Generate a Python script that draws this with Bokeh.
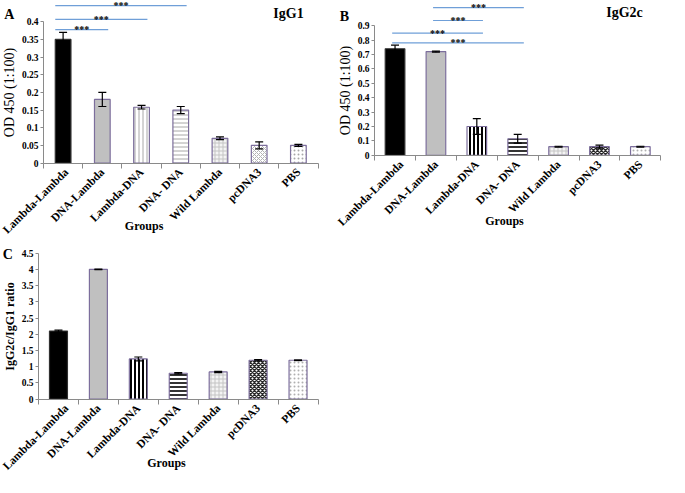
import math
from bokeh.plotting import figure
from bokeh.models import (ColumnDataSource, FixedTicker, NumeralTickFormatter,
                          CustomJSTickFormatter, Whisker, TeeHead, Label, Range1d)
from bokeh.layouts import column, row
from bokeh.core.properties import value
from bokeh.embed import file_html
from bokeh.resources import INLINE

# ---------------- data ----------------
groups = ["Lambda-Lambda", "DNA-Lambda", "Lambda-DNA", "DNA- DNA",
          "Wild Lambda", "pcDNA3", "PBS"]

igg1_mean = [0.35, 0.18, 0.158, 0.15, 0.07, 0.05, 0.05]
igg1_err = [0.02, 0.02, 0.005, 0.01, 0.004, 0.01, 0.003]
igg1_ticks = [0, 0.05, 0.1, 0.15, 0.2, 0.25, 0.3, 0.35, 0.4]

igg2c_mean = [0.74, 0.72, 0.20, 0.115, 0.06, 0.06, 0.06]
igg2c_err = [0.025, 0.004, 0.055, 0.03, 0.003, 0.01, 0.003]
igg2c_ticks = [0, 0.1, 0.2, 0.3, 0.4, 0.5, 0.6, 0.7, 0.8, 0.9]

ratio_mean = [2.1, 4.0, 1.24, 0.8, 0.84, 1.2, 1.2]
ratio_err = [0.03, 0.01, 0.06, 0.02, 0.02, 0.02, 0.01]
ratio_ticks = [0, 0.5, 1, 1.5, 2, 2.5, 3, 3.5, 4, 4.5]

sig_a_from = ["Lambda-Lambda", "Lambda-Lambda", "Lambda-Lambda"]
sig_a_to = ["DNA-Lambda", "Lambda-DNA", "DNA- DNA"]
sig_a_level = [0.378, 0.407, 0.446]

sig_b_from = ["DNA-Lambda", "DNA-Lambda", "Lambda-Lambda", "Lambda-Lambda"]
sig_b_to = ["DNA- DNA", "Lambda-DNA", "Lambda-DNA", "DNA- DNA"]
sig_b_level = [1.025, 0.936, 0.848, 0.781]

# ---------------- styles ----------------
SERIF = "Liberation Serif"
fills = ["black", "#c0c0c0", "white", "white", "#f4f4f4", "white", "white"]
patterns = [" ", " ", "vertical_line", "horizontal_line", "cross",
            "diagonal_cross", "dot"]
hatch_light = ["black", "black", "#a8a8a8", "#a8a8a8", "#c4c4c4", "#b4b4b4", "#a8a8a8"]
hatch_dark = ["black", "black", "black", "black", "#c4c4c4", "#2a2a2a", "#b0b0b0"]
hatch_w_light = [1, 1, 1, 1, 1, 1, 2.5]
hatch_w_dark = [1, 1, 2, 1.6, 1, 1.4, 2.5]
borders = ["#303030", "#7c6e9c", "#7c6e9c", "#7c6e9c", "#7c6e9c", "#7c6e9c", "#7c6e9c"]
AXIS_COL = "#8a8a8a"
SIG_COL = "#6f9fd8"


def make_panel(width, height, geom, means, errs, yticks, ylabel, ylabel_size,
               ylabel_style, fmt, bar_w, hatch_cols, hatch_ws, letter, letter_px,
               title, title_px, groups_px):
    # geom: pixel position of axis origin, x-axis end and top tick inside the panel
    ox, oy, x_end_px, ytop_px = geom
    n = len(groups)
    sx = (x_end_px - ox) / n
    sy = (oy - ytop_px) / yticks[-1]
    x_start, x_stop = -ox / sx, n + (width - x_end_px) / sx
    y_stop, y_start = oy / sy, -(height - oy) / sy

    def px2x(px):
        return (px - ox) / sx

    def py2y(py):
        return (oy - py) / sy

    p = figure(width=width, height=height, output_backend="svg",
               toolbar_location=None, x_range=Range1d(x_start, x_stop),
               y_range=Range1d(y_start, y_stop), min_border=0)
    p.outline_line_color = None
    p.xgrid.grid_line_color = None
    p.ygrid.grid_line_color = None
    p.background_fill_color = "white"
    p.border_fill_color = "white"

    xs = [i + 0.5 for i in range(n)]
    src = ColumnDataSource(dict(
        x=xs, top=means,
        upper=[m + e for m, e in zip(means, errs)],
        lower=[m - e for m, e in zip(means, errs)],
        fill=fills, pat=patterns, hcol=hatch_cols, hw=hatch_ws, line=borders))
    p.vbar(x="x", top="top", width=bar_w, bottom=0, source=src,
           fill_color="fill", line_color="line", line_width=1.2,
           hatch_pattern="pat", hatch_color="hcol", hatch_weight="hw",
           hatch_scale=4)
    wh = Whisker(source=src, base="x", upper="upper", lower="lower",
                 line_color="black", line_width=1.2, level="annotation",
                 upper_head=TeeHead(size=8, line_color="black", line_width=1.2),
                 lower_head=TeeHead(size=8, line_color="black", line_width=1.2))
    p.add_layout(wh)

    xa = p.xaxis[0]
    xa.fixed_location = 0
    xa.bounds = (0, n)
    xa.ticker = FixedTicker(ticks=xs, minor_ticks=list(range(n + 1)))
    xa.formatter = CustomJSTickFormatter(args=dict(names=groups),
                                         code="return names[Math.round(tick - 0.5)];")
    xa.major_tick_line_color = None
    xa.major_tick_in = 0
    xa.major_tick_out = 5
    xa.minor_tick_line_color = AXIS_COL
    xa.minor_tick_in = 0
    xa.minor_tick_out = 5
    xa.axis_line_color = AXIS_COL
    xa.major_label_orientation = math.pi / 4
    xa.major_label_standoff = 2
    xa.major_label_text_font = SERIF
    xa.major_label_text_font_style = "bold"
    xa.major_label_text_font_size = "11.5px"
    xa.major_label_text_color = "black"

    ya = p.yaxis[0]
    ya.fixed_location = 0
    ya.ticker = FixedTicker(ticks=yticks)
    ya.formatter = NumeralTickFormatter(format=fmt)
    ya.bounds = (yticks[0], yticks[-1])
    ya.axis_line_color = AXIS_COL
    ya.major_tick_line_color = AXIS_COL
    ya.major_tick_in = 0
    ya.major_tick_out = 3
    ya.minor_tick_line_color = None
    ya.major_label_standoff = 2
    ya.major_label_text_font = SERIF
    ya.major_label_text_font_style = "bold"
    ya.major_label_text_font_size = "9.5px"
    ya.major_label_text_color = "black"
    ya.axis_label = ylabel
    ya.axis_label_text_font = SERIF
    ya.axis_label_text_font_style = ylabel_style
    ya.axis_label_text_font_size = ylabel_size
    ya.axis_label_text_color = "black"
    ya.axis_label_standoff = 2

    def add_text(txt, pos, size):
        p.add_layout(Label(x=px2x(pos[0]), y=py2y(pos[1]), text=txt,
                           text_font=SERIF, text_font_style="bold",
                           text_font_size=size, text_align="center",
                           text_baseline="middle", text_color="black"))

    add_text(letter, letter_px, "14px")
    if title:
        add_text(title, title_px, "14px")
    add_text("Groups", groups_px, "12px")
    return p


def add_sig(p, frm, to, level, start_off, end_off):
    x0 = [groups.index(f) + 0.5 + start_off for f in frm]
    x1 = [groups.index(t) + 0.5 + end_off for t in to]
    p.segment(x0=x0, y0=level, x1=x1, y1=level, line_color=SIG_COL, line_width=1.2)
    p.text(x=[(a + b) / 2 for a, b in zip(x0, x1)], y=level,
           text=["***"] * len(level), text_font=value(SERIF),
           text_font_style="bold", text_font_size="10px", text_align="center",
           text_baseline="alphabetic", text_color="black")


pA = make_panel(335, 240, (43, 162.5, 317.5, 21.3),
                igg1_mean, igg1_err, igg1_ticks,
                "OD 450 (1:100)", "14px", "normal", "0.[00]", 0.4,
                hatch_light, hatch_w_light, "A", (8.8, 13.5), "IgG1", (288, 12.6),
                (143.6, 225.4))
add_sig(pA, sig_a_from, sig_a_to, sig_a_level, -0.2, 0.15)

pB = make_panel(334, 240, (39.1, 154.8, 325.3, 25.2),
                igg2c_mean, igg2c_err, igg2c_ticks,
                "OD 450 (1:100)", "14px", "normal", "0.[0]", 0.48,
                hatch_dark, hatch_w_dark, "B", (8.8, 16.4), "IgG2c", (289, 12.1),
                (169, 220.6))
add_sig(pB, sig_b_from, sig_b_to, sig_b_level, -0.07, 0.15)

pC = make_panel(335, 237, (38, 158.7, 317.5, 12.6),
                ratio_mean, ratio_err, ratio_ticks,
                "IgG2c/IgG1 ratio", "12px", "bold", "0.[0]", 0.45,
                hatch_dark, hatch_w_dark, "C", (7.3, 13.5), None, None,
                (166, 222.5))

layout = column(row(pA, pB), pC)
open("out.html", "w").write(file_html(layout, INLINE))
